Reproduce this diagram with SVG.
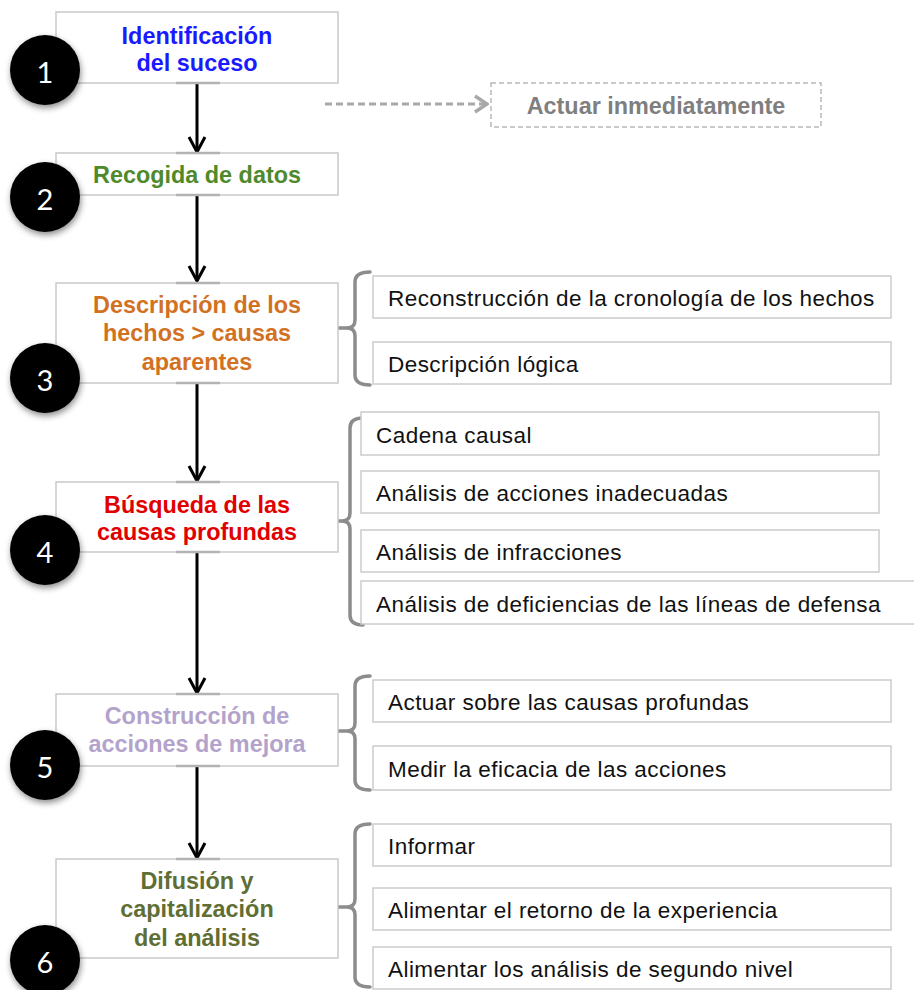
<svg xmlns="http://www.w3.org/2000/svg" width="914" height="990" viewBox="0 0 914 990">
  <defs>
    <style>
      .box { fill: #ffffff; stroke: #c9c9c9; stroke-width: 1.5; }
      .port { stroke: #b3b3b3; stroke-width: 2.5; }
      .sub { fill: #ffffff; stroke: #cccccc; stroke-width: 1.5; }
      .dbox { fill: #ffffff; stroke: #b8b8b8; stroke-width: 1.5; stroke-dasharray: 5 3; }
      .ttl { font-family: "Liberation Sans", Arial, sans-serif; font-weight: bold; font-size: 23.4px; text-anchor: middle; }
      .st { font-family: "Liberation Sans", Arial, sans-serif; font-size: 22.5px; letter-spacing: 0.45px; fill: #111111; }
      .num { font-family: Lato, "Open Sans", sans-serif; font-size: 29px; fill: #ffffff; text-anchor: middle; }
      .dot { fill: #000000; filter: url(#shadow); }
      .flow { stroke: #000000; stroke-width: 3; fill: none; marker-end: url(#arr); }
      .dash { stroke: #a8a8a8; stroke-width: 3; stroke-dasharray: 7 4; fill: none; marker-end: url(#arrg); }
      .brace { fill: none; stroke: #8c8c8c; stroke-width: 3.5; stroke-linecap: round; }
    </style>
    <filter id="shadow" x="-40%" y="-40%" width="180%" height="180%">
      <feDropShadow dx="1" dy="3" stdDeviation="3" flood-color="#000000" flood-opacity="0.45"/>
    </filter>
    <marker id="arr" markerUnits="userSpaceOnUse" viewBox="-18 -10 20 20" refX="0" refY="0" markerWidth="20" markerHeight="20" orient="auto">
      <path d="M-15,-8 L0,0 L-15,8" fill="none" stroke="#000000" stroke-width="3"/>
    </marker>
    <marker id="arrg" markerUnits="userSpaceOnUse" viewBox="-18 -10 20 20" refX="0" refY="0" markerWidth="20" markerHeight="20" orient="auto">
      <path d="M-12,-8 L0,0 L-12,8" fill="none" stroke="#a8a8a8" stroke-width="3.5"/>
    </marker>
  </defs>

  <rect width="914" height="990" fill="#ffffff"/>

  <!-- connectors -->
  <g id="connectors">
    <line class="flow" x1="197" y1="83" x2="197" y2="152"/>
    <line class="flow" x1="197" y1="195" x2="197" y2="281"/>
    <line class="flow" x1="197" y1="383" x2="197" y2="481"/>
    <line class="flow" x1="197" y1="552" x2="197" y2="693"/>
    <line class="flow" x1="197" y1="766" x2="197" y2="858"/>
    <line class="dash" x1="325" y1="104" x2="487" y2="104"/>
    <path class="brace" d="M370,272 Q355,272 355,282 V320 Q355,328 347,328 H337 M347,328 Q355,328 355,336 V375 Q355,385 370,385"/>
    <path class="brace" d="M363,418 Q350,418 350,428 V513 Q350,521 342,521 H337 M342,521 Q350,521 350,529 V615 Q350,625 363,625"/>
    <path class="brace" d="M370,676 Q355,676 355,686 V723 Q355,731 347,731 H337 M347,731 Q355,731 355,739 V780 Q355,790 370,790"/>
    <path class="brace" d="M370,824 Q355,824 355,834 V899 Q355,907 347,907 H337 M347,907 Q355,907 355,915 V977 Q355,987 370,987"/>
  </g>

  <!-- step 1 -->
  <g id="step1">
    <rect class="box" x="56" y="12" width="282" height="71"/>
    <line class="port" x1="176" y1="83" x2="220" y2="83"/>
    <text class="ttl" fill="#1a1aff" x="197" y="44">Identificación</text>
    <text class="ttl" fill="#1a1aff" x="197" y="71">del suceso</text>
    <circle class="dot" cx="45" cy="70" r="35"/>
    <text class="num" x="45" y="83">1</text>
  </g>

  <!-- immediate action -->
  <g id="actuar">
    <rect class="dbox" x="491" y="83" width="330" height="44"/>
    <text class="ttl" fill="#7f7f7f" x="656" y="114">Actuar inmediatamente</text>
  </g>

  <!-- step 2 -->
  <g id="step2">
    <rect class="box" x="56" y="153" width="282" height="42"/>
    <line class="port" x1="176" y1="153" x2="220" y2="153"/>
    <line class="port" x1="176" y1="195" x2="220" y2="195"/>
    <text class="ttl" fill="#4e8a2b" x="197" y="183">Recogida de datos</text>
    <circle class="dot" cx="45" cy="197" r="35"/>
    <text class="num" x="45" y="210">2</text>
  </g>

  <!-- step 3 -->
  <g id="step3">
    <rect class="box" x="56" y="283" width="282" height="100"/>
    <line class="port" x1="176" y1="283" x2="220" y2="283"/>
    <line class="port" x1="176" y1="383" x2="220" y2="383"/>
    <text class="ttl" fill="#d2711f" x="197" y="313">Descripción de los</text>
    <text class="ttl" fill="#d2711f" x="197" y="341">hechos &gt; causas</text>
    <text class="ttl" fill="#d2711f" x="197" y="370">aparentes</text>
    <circle class="dot" cx="45" cy="378" r="35"/>
    <text class="num" x="45" y="391">3</text>
  </g>
  <g id="step3-items">
    <rect class="sub" x="373" y="276" width="518" height="42"/>
    <text class="st" x="388" y="306">Reconstrucción de la cronología de los hechos</text>
    <rect class="sub" x="373" y="342" width="518" height="42"/>
    <text class="st" x="388" y="372">Descripción lógica</text>
  </g>

  <!-- step 4 -->
  <g id="step4">
    <rect class="box" x="56" y="482" width="282" height="70"/>
    <line class="port" x1="176" y1="482" x2="220" y2="482"/>
    <line class="port" x1="176" y1="552" x2="220" y2="552"/>
    <text class="ttl" fill="#e10000" x="197" y="513">Búsqueda de las</text>
    <text class="ttl" fill="#e10000" x="197" y="540">causas profundas</text>
    <circle class="dot" cx="45" cy="550" r="35"/>
    <text class="num" x="45" y="563">4</text>
  </g>
  <g id="step4-items">
    <rect class="sub" x="361" y="412" width="518" height="43"/>
    <text class="st" x="376" y="443">Cadena causal</text>
    <rect class="sub" x="361" y="471" width="518" height="42"/>
    <text class="st" x="376" y="501">Análisis de acciones inadecuadas</text>
    <rect class="sub" x="361" y="530" width="518" height="42"/>
    <text class="st" x="376" y="560">Análisis de infracciones</text>
    <rect class="sub" x="361" y="581" width="560" height="43"/>
    <text class="st" x="376" y="612">Análisis de deficiencias de las líneas de defensa</text>
  </g>

  <!-- step 5 -->
  <g id="step5">
    <rect class="box" x="56" y="694" width="282" height="72"/>
    <line class="port" x1="176" y1="694" x2="220" y2="694"/>
    <line class="port" x1="176" y1="766" x2="220" y2="766"/>
    <text class="ttl" fill="#b3a3cb" x="197" y="724">Construcción de</text>
    <text class="ttl" fill="#b3a3cb" x="197" y="752">acciones de mejora</text>
    <circle class="dot" cx="45" cy="765" r="35"/>
    <text class="num" x="45" y="778">5</text>
  </g>
  <g id="step5-items">
    <rect class="sub" x="373" y="680" width="518" height="42"/>
    <text class="st" x="388" y="710">Actuar sobre las causas profundas</text>
    <rect class="sub" x="373" y="746" width="518" height="44"/>
    <text class="st" x="388" y="777">Medir la eficacia de las acciones</text>
  </g>

  <!-- step 6 -->
  <g id="step6">
    <rect class="box" x="56" y="859" width="282" height="99"/>
    <line class="port" x1="176" y1="859" x2="220" y2="859"/>
    <text class="ttl" fill="#5f6e33" x="197" y="889">Difusión y</text>
    <text class="ttl" fill="#5f6e33" x="197" y="917">capitalización</text>
    <text class="ttl" fill="#5f6e33" x="197" y="946">del análisis</text>
    <circle class="dot" cx="45" cy="960" r="35"/>
    <text class="num" x="45" y="973">6</text>
  </g>
  <g id="step6-items">
    <rect class="sub" x="373" y="824" width="518" height="42"/>
    <text class="st" x="388" y="854">Informar</text>
    <rect class="sub" x="373" y="888" width="518" height="42"/>
    <text class="st" x="388" y="918">Alimentar el retorno de la experiencia</text>
    <rect class="sub" x="373" y="947" width="518" height="42"/>
    <text class="st" x="388" y="977">Alimentar los análisis de segundo nivel</text>
  </g>
</svg>
